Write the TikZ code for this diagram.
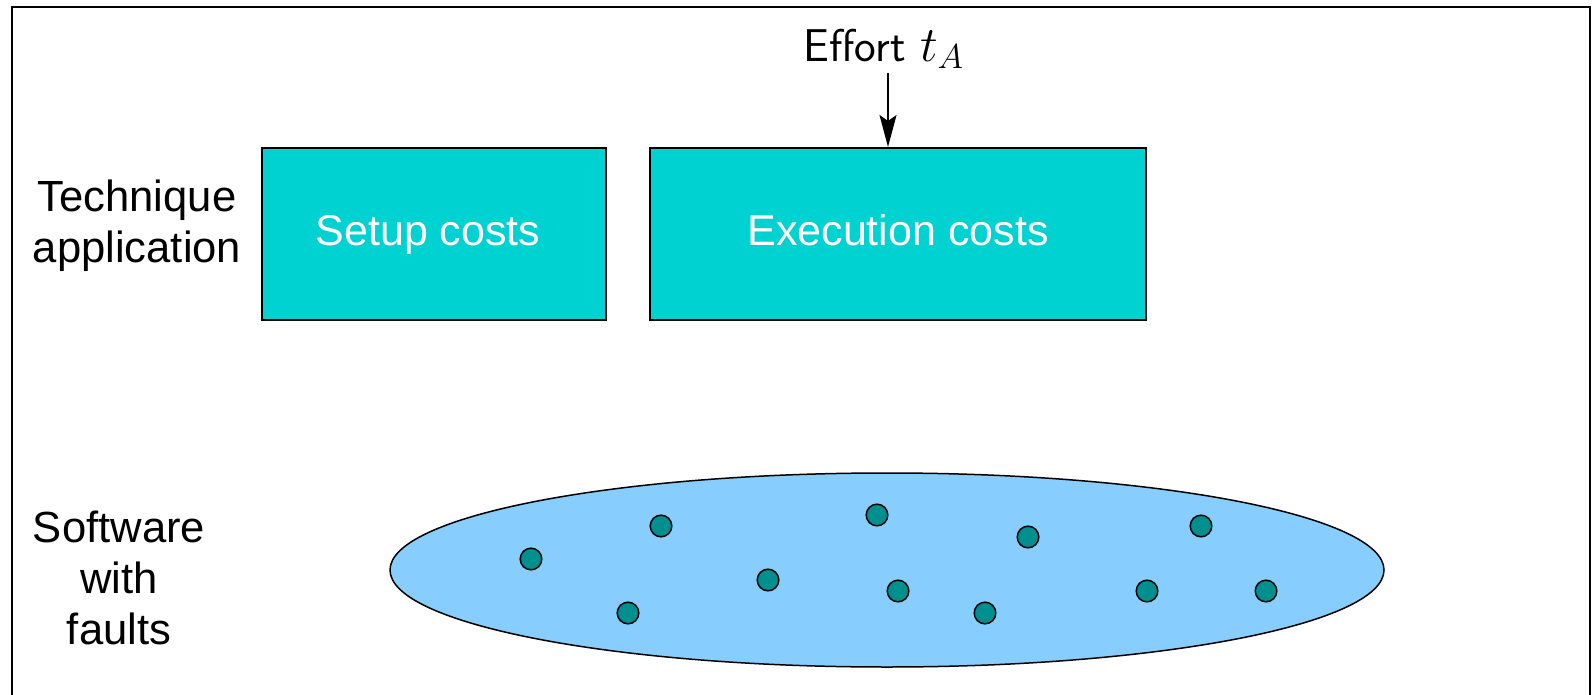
\documentclass[tikz,border=0pt]{standalone}
\usepackage{fontspec}
\setmainfont{Liberation Sans}
\usetikzlibrary{arrows.meta}
\definecolor{boxcyan}{RGB}{0,209,209}
\definecolor{faultblue}{RGB}{135,206,255}
\definecolor{faultdot}{RGB}{0,143,143}
\newcommand{\lbl}{\fontsize{21.5}{25}\selectfont}
\newcommand{\rowlbl}{\fontsize{21.8}{25.3}\selectfont}

\begin{document}
\begin{tikzpicture}[x=0.5pt,y=-0.5pt,
    costbox/.style={draw,line width=1pt,fill=boxcyan,text=white,font=\lbl,
      minimum height=86pt,inner sep=0pt,text height=16pt,text depth=4.5pt},
    rowlabel/.style={font=\rowlbl,align=center},
    fault/.style={circle,draw,line width=0.75pt,fill=faultdot,
      minimum size=10.8pt,inner sep=0pt}]
    \useasboundingbox (0,0) rectangle (1594,695);
    \draw[line width=1pt] (12,720) -- (12,7) -- (1590,7) -- (1590,720);

    \node[rowlabel] (technique) at (137,226) {Technique\\application};
    \node[costbox,minimum width=172pt] (setup) at (434,234) {Setup costs\kern6pt};
    \node[costbox,minimum width=248pt] (exec) at (898,234) {Execution costs};

    \node[font=\sffamily\fontsize{23}{27}\selectfont,anchor=south,inner sep=2pt]
      (effort) at (884,73) {Effort $t_A$};
    \draw[line width=1pt,-{Stealth[length=16pt,width=8.5pt,inset=3pt]}]
      ([xshift=2pt]effort.south) -- ([xshift=2pt]effort.south |- exec.north);

    \node[rowlabel] (software) at (119,578) {Software\\with\\faults};
    \draw[line width=0.75pt,fill=faultblue] (887,570) ellipse [x radius=497,y radius=97];
    \foreach \px/\py [count=\i] in {531/559, 661/526, 628/613, 768/580, 877/515,
        898/591, 985/613, 1028/537, 1147/591, 1201/526, 1266/591}
      \node[fault] (fault\i) at (\px,\py) {};
\end{tikzpicture}
\end{document}
